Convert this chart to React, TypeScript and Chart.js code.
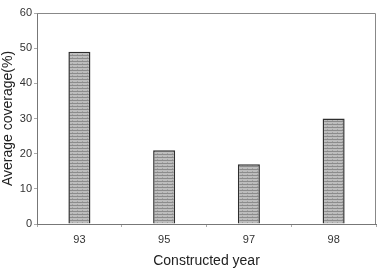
import React, { useEffect, useRef } from "react";
import { Chart, registerables } from "chart.js";

Chart.register(...registerables);

const categories = ["93", "95", "97", "98"];
const coverage = [49, 21, 17, 30];
const yTicks = [0, 10, 20, 30, 40, 50, 60];

function makePattern(): CanvasPattern | string {
  const c = document.createElement("canvas");
  c.width = 5;
  c.height = 3;
  const g = c.getContext("2d");
  if (!g) return "#aaaaaa";
  g.fillStyle = "#bdbdbd";
  g.fillRect(0, 0, 5, 3);
  g.fillStyle = "#8c8c8c";
  g.fillRect(0, 1, 5, 1);
  g.fillStyle = "#a0a0a0";
  g.fillRect(2, 0, 1, 1);
  const p = g.createPattern(c, "repeat");
  return p || "#aaaaaa";
}

export default function App() {
  const ref = useRef<HTMLCanvasElement>(null);
  useEffect(() => {
    document.body.style.margin = "0";
    if (!ref.current) return;
    const font = "'Liberation Sans', Arial, sans-serif";
    const chart = new Chart(ref.current, {
      type: "bar",
      data: {
        labels: categories,
        datasets: [
          {
            data: coverage,
            backgroundColor: makePattern() as any,
            borderColor: "#2e2e2e",
            borderWidth: 1.5,
            barPercentage: 0.26,
            categoryPercentage: 1,
          },
        ],
      },
      options: {
        animation: false,
        responsive: false,
        maintainAspectRatio: false,
        layout: { padding: { top: 13, right: 7, left: 0, bottom: 0 } },
        plugins: { legend: { display: false }, tooltip: { enabled: false } },
        scales: {
          x: {
            border: { display: true, color: "#777", width: 1 },
            grid: {
              display: true,
              drawOnChartArea: false,
              drawTicks: true,
              tickLength: 3,
              color: "#aaa",
              offset: true,
            },
            ticks: { color: "#333", font: { family: font, size: 11 }, padding: 6 },
            title: {
              display: true,
              text: "Constructed year",
              color: "#222",
              font: { family: font, size: 14 },
              padding: { top: 1, bottom: 0 },
            },
          },
          y: {
            min: 0,
            max: 60,
            afterBuildTicks: (axis: any) => {
              axis.ticks = yTicks.map((v) => ({ value: v }));
            },
            border: { display: true, color: "#777", width: 1 },
            grid: {
              display: true,
              drawOnChartArea: false,
              drawTicks: true,
              tickLength: 3,
              color: "#aaa",
            },
            ticks: { color: "#333", font: { family: font, size: 11 }, padding: 2 },
            title: {
              display: true,
              text: "Average coverage(%)",
              color: "#222",
              font: { family: font, size: 14 },
              padding: { top: 0, bottom: 1 },
            },
          },
        },
      },
      plugins: [
        {
          id: "frame",
          afterDraw(c: any) {
            const { ctx, chartArea } = c;
            ctx.save();
            ctx.strokeStyle = "#888";
            ctx.lineWidth = 1;
            ctx.beginPath();
            ctx.moveTo(chartArea.left, chartArea.top + 0.5);
            ctx.lineTo(chartArea.right - 0.5, chartArea.top + 0.5);
            ctx.lineTo(chartArea.right - 0.5, chartArea.bottom);
            ctx.stroke();
            ctx.restore();
          },
        },
      ],
    });
    return () => chart.destroy();
  }, []);
  return (
    <div style={{ width: 383, height: 270 }}>
      <canvas ref={ref} width={383} height={270} style={{ width: 383, height: 270 }} />
    </div>
  );
}
